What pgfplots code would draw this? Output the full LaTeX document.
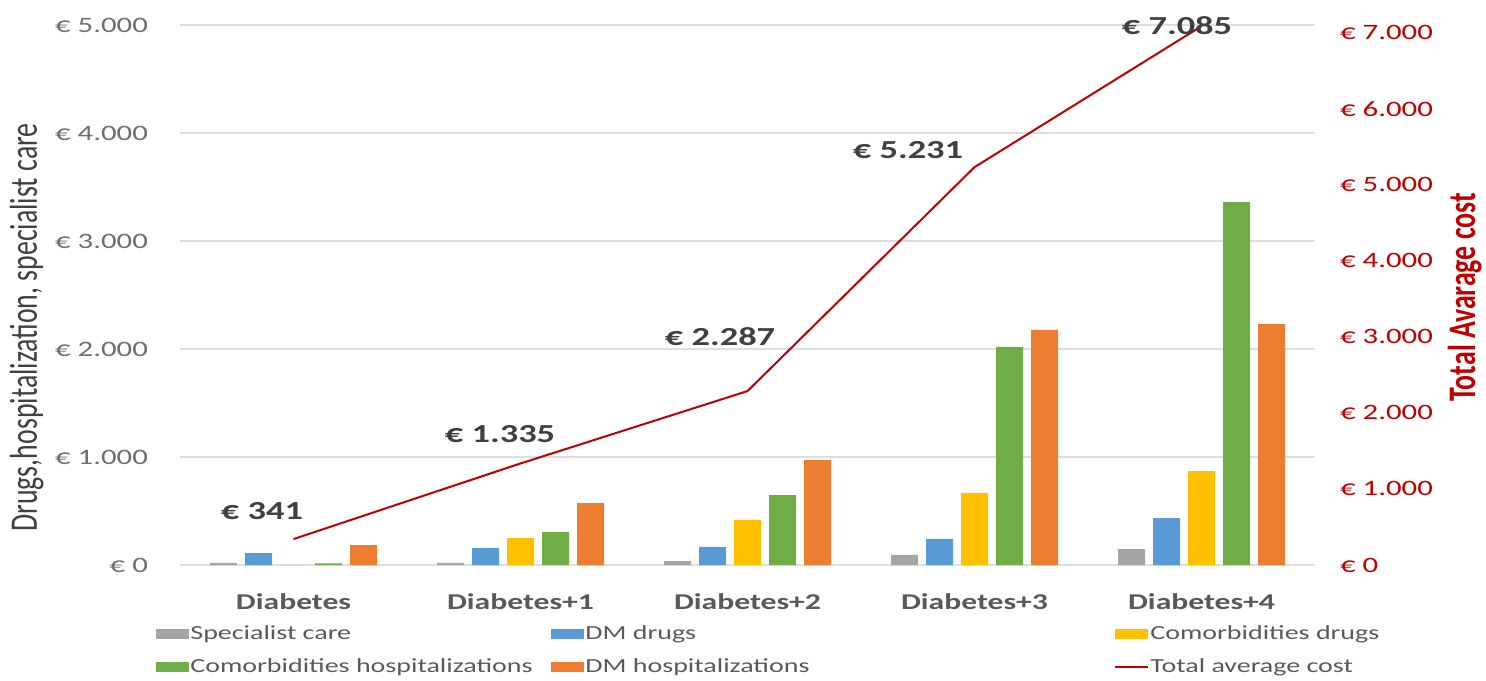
\documentclass[border=0pt]{standalone}
\usepackage{fontspec}
\setmainfont{Carlito}[FakeStretch=1.4]
\newfontfamily\rotfont{Carlito}[FakeStretch=0.714]
\usepackage{pgfplots}
\pgfplotsset{compat=1.18}

\definecolor{cgray}{HTML}{A5A5A5}
\definecolor{cblue}{HTML}{5B9BD5}
\definecolor{cgold}{HTML}{FFC000}
\definecolor{cgreen}{HTML}{70AD47}
\definecolor{corange}{HTML}{ED7D31}
\definecolor{cred}{HTML}{C00000}
\definecolor{ticktxt}{HTML}{6E6E6E}
\definecolor{labtxt}{HTML}{404040}
\definecolor{legtxt}{HTML}{595959}
\definecolor{gridc}{HTML}{DEDEDE}

\pgfplotsset{
  barleg/.style={legend image code/.code={\fill[##1] (0pt,-2.5pt) rectangle (16.5pt,2.5pt);}},
  lineleg/.style={legend image code/.code={\draw[##1] (0pt,0pt) -- (16.5pt,0pt);}},
}

\begin{document}
\begin{tikzpicture}
\begin{axis}[
    name=ax,
    scale only axis,
    width=567.5pt, height=270pt,
    xmin=-0.5, xmax=4.5,
    ymin=0, ymax=5000,
    ybar=4pt, bar width=13.5pt,
    xtick={0,1,2,3,4},
    xticklabels={Diabetes,Diabetes+1,Diabetes+2,Diabetes+3,Diabetes+4},
    ytick={0,1000,2000,3000,4000,5000},
    yticklabels={€ 0,€ 1.000,€ 2.000,€ 3.000,€ 4.000,€ 5.000},
    scaled y ticks=false,
    axis line style={draw=none},
    tick style={draw=none},
    ymajorgrids, grid style={gridc, line width=0.6pt},
    yticklabel style={font=\fontsize{11pt}{13pt}\selectfont, text=ticktxt, xshift=-12.5pt},
    xticklabel style={font=\bfseries\fontsize{11.3pt}{13pt}\selectfont, text=legtxt, yshift=-6.5pt},
    ylabel={Drugs,hospitalization, specialist care},
    ylabel style={at={(rel axis cs:-0.135,0.44)}, anchor=center,
        font=\rotfont\fontsize{19.5pt}{21pt}\selectfont, text=labtxt},
    legend columns=3,
    legend cell align=left,
    legend style={at={(rel axis cs:0,0)}, anchor=north west, xshift=-12.25pt, yshift=-30.5pt,
        draw=none, fill=none, inner sep=0pt, row sep=8.5pt, column sep=0pt,
        font=\fontsize{10pt}{12pt}\selectfont, text=legtxt,
        nodes={inner xsep=0.75pt, inner ysep=0pt, text height=6.5pt, text depth=1.5pt}},
]
\addplot[fill=cgray, draw=none, barleg] coordinates {(0,20) (1,20) (2,37) (3,93) (4,148)};
\addlegendentry{\makebox[179.5pt][l]{Specialist care}}
\addplot[fill=cblue, draw=none, barleg] coordinates {(0,111) (1,157) (2,167) (3,241) (4,435)};
\addlegendentry{\makebox[263.5pt][l]{DM drugs}}
\addplot[fill=cgold, draw=none, barleg] coordinates {(0,0) (1,250) (2,417) (3,667) (4,870)};
\addlegendentry{Comorbidities drugs}
\addplot[fill=cgreen, draw=none, barleg] coordinates {(0,15) (1,306) (2,648) (3,2019) (4,3361)};
\addlegendentry{\makebox[179.5pt][l]{Comorbidities hospitalizations}}
\addplot[fill=corange, draw=none, barleg] coordinates {(0,185) (1,574) (2,972) (3,2176) (4,2231)};
\addlegendentry{\makebox[263.5pt][l]{DM hospitalizations}}
\addlegendimage{cred, line width=1pt, lineleg}
\addlegendentry{Total average cost}
\end{axis}

\begin{axis}[
    at={(ax.south west)}, anchor=south west,
    scale only axis,
    width=567.5pt, height=270pt,
    xmin=-0.5, xmax=4.5,
    ymin=0, ymax=7100,
    clip=false,
    hide x axis,
    axis line style={draw=none},
    tick style={draw=none},
    ytick pos=right, yticklabel pos=right,
    ytick={0,1000,2000,3000,4000,5000,6000,7000},
    yticklabels={€ 0,€ 1.000,€ 2.000,€ 3.000,€ 4.000,€ 5.000,€ 6.000,€ 7.000},
    scaled y ticks=false,
    yticklabel style={font=\fontsize{11pt}{13pt}\selectfont, text=cred, xshift=9pt},
    ylabel={\bfseries Total Avarage cost},
    ylabel style={at={(rel axis cs:1.132,0.496)}, anchor=center, rotate=0,
        font=\rotfont\fontsize{19.5pt}{21pt}\selectfont, text=cred},
]
\addplot[cred, line width=1pt] coordinates {(0,341) (1,1335) (2,2287) (3,5231) (4,7085)};
\begin{scope}[every node/.style={font=\bfseries\fontsize{13pt}{15pt}\selectfont, text=labtxt}]
\node at (axis cs:-0.139,710) {€ 341};
\node at (axis cs:0.91,1722) {€ 1.335};
\node at (axis cs:1.879,2998) {€ 2.287};
\node at (axis cs:2.707,5456) {€ 5.231};
\node at (axis cs:3.892,7087) {€ 7.085};
\end{scope}
\end{axis}
\pgfresetboundingbox
\path[use as bounding box] ([shift={(-90pt,-57.5pt)}]ax.south west) rectangle ([shift={(653pt,282.5pt)}]ax.south west);
\end{tikzpicture}
\end{document}
